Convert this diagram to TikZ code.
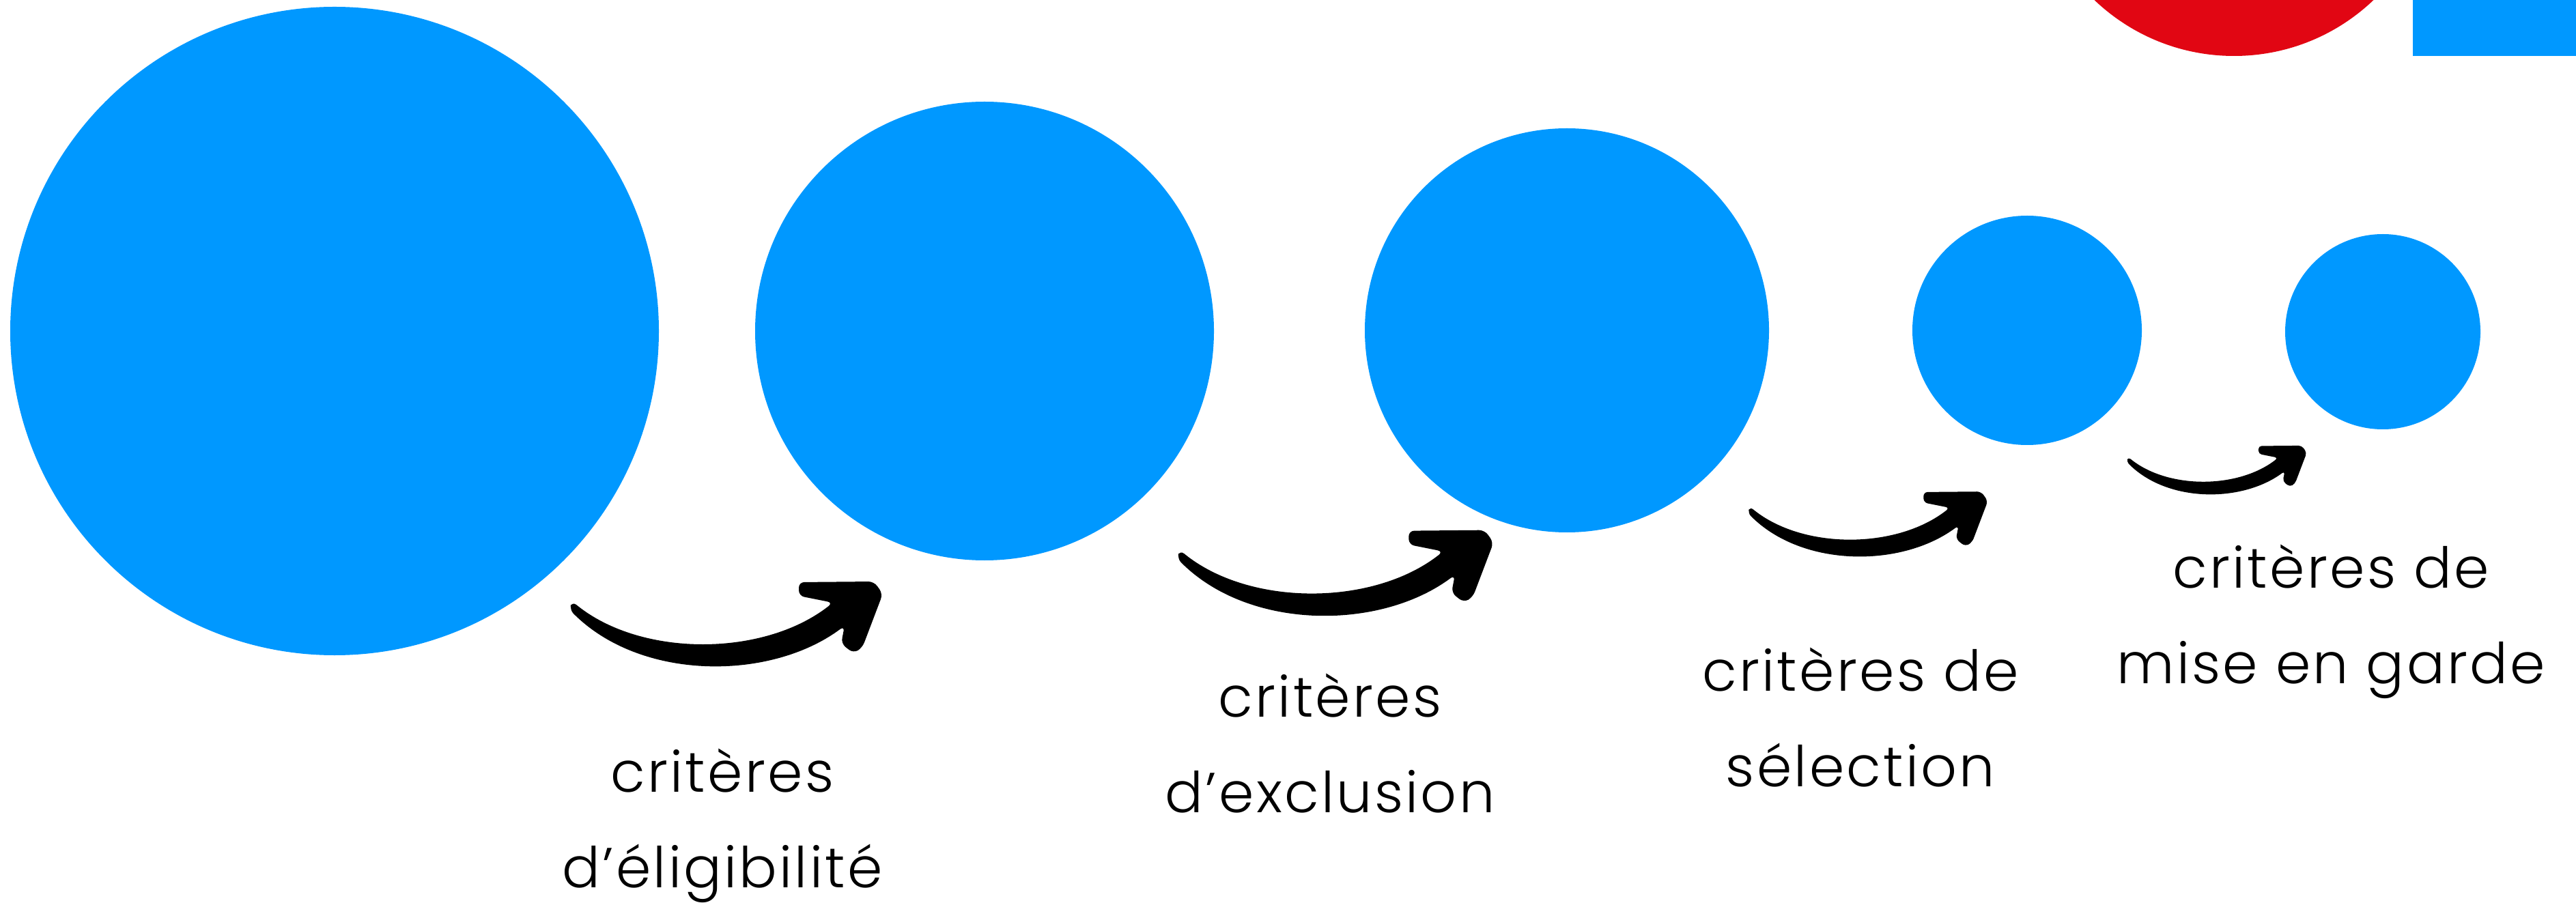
\documentclass[tikz,border=0pt]{standalone}
\usepackage{fontspec}
\setmainfont{Poppins}[UprightFont={* Light}, LetterSpace=4]
\definecolor{bleu}{RGB}{0,152,255}
\definecolor{rouge}{RGB}{225,6,19}

\tikzset{
  disk/.style={circle, fill=bleu, inner sep=0pt, minimum size=#1},
  lbl/.style={align=center, anchor=base, font=\fontsize{23.5pt}{39.8pt}\selectfont}
}

% fleche dessinee a la main : #1,#2 = queue, #3 = echelle
\newcommand{\swoosh}[3]{%
  \begin{scope}[shift={(#1,#2)}, scale=#3]
    \fill[rounded corners=#3*0.08cm] (0,0.06) .. controls (1.00,-0.76) and (2.80,-0.76) .. (3.82,0.04)
      -- (3.32,0.14) -- (3.32,0.34) -- (4.42,0.35) -- (4.55,0.17) -- (4.25,-0.62)
      -- (4.12,-0.70) -- (3.94,-0.56) -- (3.99,-0.30)
      .. controls (2.90,-1.11) and (1.00,-1.11) .. (-0.04,-0.06) -- cycle;
  \end{scope}}

\begin{document}
\begin{tikzpicture}

    \useasboundingbox (0,0) rectangle (37.73,-13.23);
    \clip (0,0) rectangle (37.73,-13.23);

    % Coin en haut a droite
    \fill[rouge] (32.72,2.14) circle (2.96cm);
    \fill[bleu] (35.34,0) rectangle (37.73,-0.82);

    % Cercles
    \node[disk=9.50cm] (c1) at (4.90,-4.85)  {};
    \node[disk=6.72cm] (c2) at (14.42,-4.85) {};
    \node[disk=5.92cm] (c3) at (22.95,-4.84) {};
    \node[disk=3.36cm] (c4) at (29.69,-4.84) {};
    \node[disk=2.86cm] (c5) at (34.90,-4.86) {};

    % Fleches
    \swoosh{8.38}{-8.87}{1.00}
    \swoosh{17.28}{-8.12}{1.01}
    \swoosh{25.63}{-7.47}{0.766}
    \swoosh{31.17}{-6.73}{0.575}

    % Textes (ancre sur la derniere ligne)
    \node[lbl] (t1) at (10.58,-13.00) {critères\\d’éligibilité};
    \node[lbl] (t2) at (19.48,-11.90) {critères\\d’exclusion};
    \node[lbl] (t3) at (27.25,-11.52) {critères de\\sélection};
    \node[lbl] (t4) at (34.14,-10.01) {critères de\\mise en garde};

\end{tikzpicture}
\end{document}
